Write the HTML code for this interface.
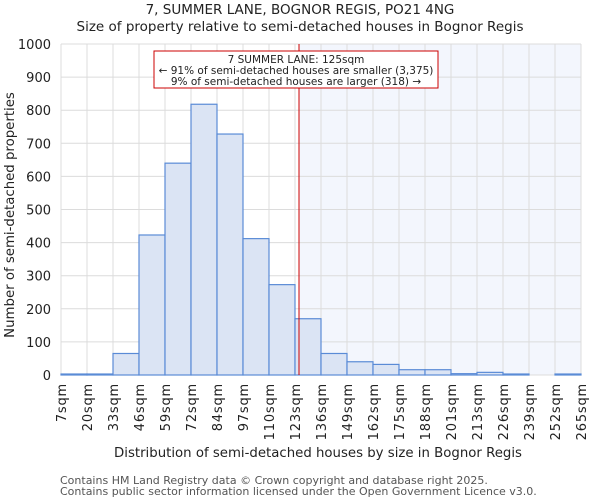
<!DOCTYPE html>
<html><head><meta charset="utf-8"><style>
body{margin:0;background:#fff;font-family:"DejaVu Sans","Liberation Sans",sans-serif;}
svg text{font-family:"DejaVu Sans","Liberation Sans",sans-serif;fill:#222;}
</style></head><body>
<svg id="chart" width="600" height="500">
<text x="300" y="14" text-anchor="middle" font-size="13.5">7, SUMMER LANE, BOGNOR REGIS, PO21 4NG</text>
<text x="300" y="31" text-anchor="middle" font-size="13.5">Size of property relative to semi-detached houses in Bognor Regis</text>
<g id="plot"></g>
<text x="318" y="457" text-anchor="middle" font-size="13.3">Distribution of semi-detached houses by size in Bognor Regis</text>
<text transform="translate(14,215) rotate(-90)" text-anchor="middle" font-size="13.3">Number of semi-detached properties</text>
<text x="60" y="484" font-size="11" style="fill:#555">Contains HM Land Registry data © Crown copyright and database right 2025.</text>
<text x="60" y="495" font-size="11" style="fill:#555">Contains public sector information licensed under the Open Government Licence v3.0.</text>
</svg>
<script>
const binLabels=["7sqm","20sqm","33sqm","46sqm","59sqm","72sqm","84sqm","97sqm","110sqm","123sqm","136sqm","149sqm","162sqm","175sqm","188sqm","201sqm","213sqm","226sqm","239sqm","252sqm","265sqm"];
const counts=[3,3,65,423,640,818,728,412,273,170,65,40,32,16,16,4,8,3,0,3];
const yTicks=[0,100,200,300,400,500,600,700,800,900,1000];
const markerIndex=9.154;
const NS="http://www.w3.org/2000/svg";
const L=61,R=581,T=44,B=375;
const bw=(R-L)/counts.length;
const xs=i=>L+i*bw;
const ys=v=>B-(v/1000)*(B-T);
const g=document.getElementById('plot');
function mk(t,a){const e=document.createElementNS(NS,t);for(const k in a)e.setAttribute(k,a[k]);g.appendChild(e);return e;}
const mx=xs(markerIndex);
let e=mk('rect',{x:mx,y:T,width:R-mx,height:B-T,fill:'#f3f6fd'});


yTicks.forEach(v=>{
 let l=mk('line',{x1:L,x2:R,y1:ys(v),y2:ys(v),stroke:'#dcdcdc'});
 
 
 let t=mk('text',{x:L-10,y:ys(v)+5,'text-anchor':'end','font-size':13});
 t.textContent=v;
 
 
});
binLabels.forEach((s,i)=>{
 let l=mk('line',{x1:xs(i),x2:xs(i),y1:T,y2:B,stroke:'#dcdcdc'});
 
 
 let t=mk('text',{transform:`translate(${xs(i)+5},${B+8}) rotate(-90)`,'text-anchor':'end','font-size':13,'letter-spacing':'0.8'});
 t.textContent=s;
 
 
});
counts.forEach((v,i)=>{
 let r=mk('rect',{x:xs(i),y:ys(v),width:bw,height:B-ys(v),fill:'#dbe4f4',stroke:'#5a8bd6','stroke-width':1.2});
 
 
});
e=mk('line',{x1:mx,x2:mx,y1:T,y2:B,stroke:'#cc0000','stroke-width':1});


e=mk('rect',{x:154,y:51,width:284,height:37,fill:'#fff',stroke:'#cc0000','stroke-width':1});


[["7 SUMMER LANE: 125sqm",63],["← 91% of semi-detached houses are smaller (3,375)",74],["9% of semi-detached houses are larger (318) →",85]].forEach(([s,y])=>{
 let t=mk('text',{x:296,y:y,'text-anchor':'middle','font-size':10.5});
 t.textContent=s;
 
 
});
</script>
</body></html>
